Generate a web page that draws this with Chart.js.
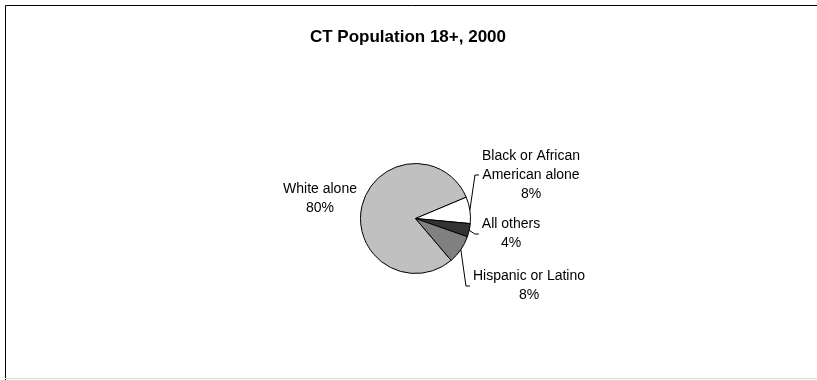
<!DOCTYPE html>
<html>
<head>
<meta charset="utf-8">
<script src="https://cdn.jsdelivr.net/npm/chart.js@4/dist/chart.umd.min.js"></script>
<style>
  html, body { margin: 0; padding: 0; background: #fff; }
  canvas { display: block; }
</style>
</head>
<body>
<canvas id="pieChart" width="817" height="380"></canvas>
<script>
// data (percent of CT adults)
const categories = ['White alone', 'Black or African American alone', 'All others', 'Hispanic or Latino'];
const labelLines = [['White alone'], ['Black or African', 'American alone'], ['All others'], ['Hispanic or Latino']];
const shares = [79.9, 7.8, 3.9, 8.4];
const chartTitle = 'CT Population 18+, 2000';

const sliceColors = ['#c0c0c0', '#ffffff', '#333333', '#808080'];

// where each label block sits (centre of the text block) and whether it gets a leader line
const labelSpots = [
  { x: 320, y: 199, leader: false },
  { x: 531, y: 175, leader: true },
  { x: 511, y: 234, leader: true },
  { x: 529, y: 286, leader: true }
];

const LABEL_FONT = '14px "Liberation Sans", Arial, sans-serif';
const LINE_H = 19;

const framePlugin = {
  id: 'frame',
  beforeDraw(chart) {
    const ctx = chart.ctx;
    ctx.save();
    ctx.fillStyle = '#fff';
    ctx.fillRect(0, 0, chart.width, chart.height);
    ctx.strokeStyle = '#000';
    ctx.lineWidth = 1;
    ctx.beginPath();
    ctx.moveTo(5.5, chart.height);
    ctx.lineTo(5.5, 5.5);
    ctx.lineTo(chart.width, 5.5);
    ctx.stroke();
    ctx.strokeStyle = '#d9d9d9';
    ctx.beginPath();
    ctx.moveTo(5, 378.5);
    ctx.lineTo(chart.width, 378.5);
    ctx.stroke();

    ctx.fillStyle = '#000';
    ctx.font = 'bold 17px "Liberation Sans", Arial, sans-serif';
    ctx.textAlign = 'center';
    ctx.textBaseline = 'middle';
    ctx.fillText(chartTitle, 408, 37);
    ctx.restore();
  }
};

const labelPlugin = {
  id: 'sliceLabels',
  afterDatasetsDraw(chart) {
    const ctx = chart.ctx;
    const meta = chart.getDatasetMeta(0);
    ctx.save();
    ctx.font = LABEL_FONT;
    ctx.textAlign = 'center';
    ctx.textBaseline = 'middle';
    meta.data.forEach((arc, i) => {
      const spot = labelSpots[i];
      const lines = labelLines[i].concat([Math.round(shares[i]) + '%']);
      const top = spot.y - (lines.length - 1) * LINE_H / 2;
      ctx.fillStyle = '#000';
      lines.forEach((t, j) => ctx.fillText(t, spot.x, top + j * LINE_H));

      if (spot.leader) {
        const left = spot.x - ctx.measureText(lines[0]).width / 2;
        const p = arc.getProps(['x', 'y', 'startAngle', 'endAngle', 'outerRadius'], true);
        const mid = (p.startAngle + p.endAngle) / 2;
        const ax = p.x + Math.cos(mid) * p.outerRadius;
        const ay = p.y + Math.sin(mid) * p.outerRadius;
        ctx.strokeStyle = '#000';
        ctx.lineWidth = 1;
        ctx.beginPath();
        ctx.moveTo(ax, ay);
        ctx.lineTo(left - 7, spot.y);
        ctx.lineTo(left - 3, spot.y);
        ctx.stroke();
      }
    });
    ctx.restore();
  }
};

new Chart(document.getElementById('pieChart').getContext('2d'), {
  type: 'pie',
  data: {
    labels: categories,
    datasets: [{
      data: shares,
      backgroundColor: sliceColors,
      borderColor: '#000',
      borderWidth: 1
    }]
  },
  options: {
    responsive: false,
    animation: false,
    rotation: 139.6,
    layout: { padding: { left: 360, right: 346, top: 163, bottom: 106 } },
    plugins: {
      legend: { display: false },
      title: { display: false },
      tooltip: { enabled: false }
    }
  },
  plugins: [framePlugin, labelPlugin]
});
</script>
</body>
</html>
